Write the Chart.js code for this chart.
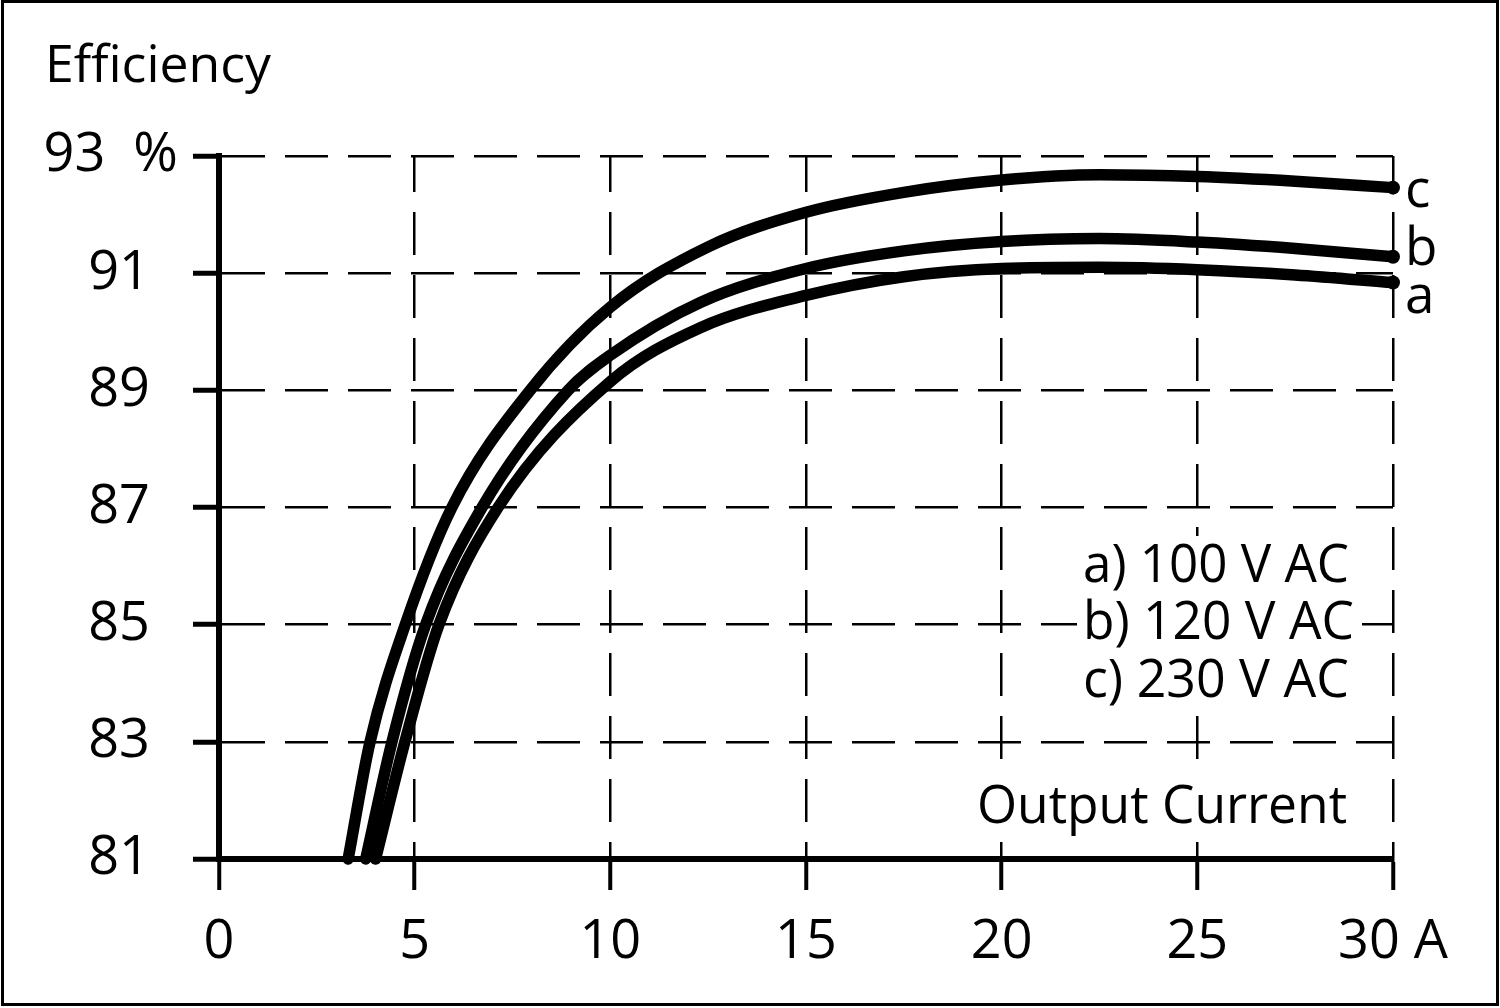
<!DOCTYPE html>
<html><head><meta charset="utf-8">
<script src="https://cdn.jsdelivr.net/npm/chart.js@4.4.1/dist/chart.umd.min.js"></script>
<style>html,body{margin:0;padding:0;background:#fff}canvas{display:block}</style>
</head><body>
<canvas id="c" width="1500" height="1008"></canvas>
<script>
// ---- data ----
const xTicks = [0, 5, 10, 15, 20, 25, 30];
const yTicks = [81, 83, 85, 87, 89, 91, 93];
const xUnit = 'A';
const yUnit = '%';
const yTitle = 'Efficiency';
const xTitle = 'Output Current';
const seriesNames = ['a) 100 V AC', 'b) 120 V AC', 'c) 230 V AC'];
const curveLetters = ['a', 'b', 'c'];

// a) 100 V AC
const currentA    = [4.0, 4.75, 5.62, 7.13, 10, 12.3, 15, 17.5, 20, 22.5, 25, 27.5, 30];
const efficiencyA = [81, 83, 85, 87, 89.15, 90.07, 90.62, 90.94, 91.08, 91.1, 91.06, 90.97, 90.84];
// b) 120 V AC
const currentB    = [3.75, 4.42, 5.28, 6.72, 8.92, 10, 12.3, 15, 17.5, 20, 22.5, 25, 27.5, 30];
const efficiencyB = [81, 83, 85, 87, 89, 89.6, 90.5, 91.08, 91.38, 91.54, 91.59, 91.53, 91.42, 91.28];
// c) 230 V AC
const currentC    = [3.3, 3.86, 4.76, 5.95, 7.95, 10, 12.5, 15, 17.5, 20, 22.5, 25, 27.5, 30];
const efficiencyC = [81, 83, 85, 87, 89, 90.42, 91.45, 92.04, 92.38, 92.59, 92.68, 92.65, 92.57, 92.46];

const FONT = '"Open Sans", "Noto Sans", sans-serif';
const toPts = (xs, ys) => xs.map((x, i) => ({x: x, y: ys[i]}));

const annot = {
  id: 'annot',
  beforeDraw(chart) {
    const ctx = chart.ctx;
    ctx.save();
    ctx.fillStyle = '#fff';
    ctx.fillRect(0, 0, chart.width, chart.height);
    ctx.restore();
  },
  afterDatasetsDraw(chart) {
    const ctx = chart.ctx;
    const xs = chart.scales.x;
    ctx.save();
    // white boxes behind the in-plot texts
    ctx.fillStyle = '#fff';
    ctx.fillRect(1077, 536, 285, 170);
    ctx.fillRect(970, 774, 386, 62);
    ctx.fillStyle = '#000';
    ctx.textAlign = 'left';
    ctx.textBaseline = 'alphabetic';
    ctx.font = '52px ' + FONT;
    ctx.fillText(yTitle, 45, 82, 226);
    ctx.font = '53px ' + FONT;
    const legendBase = [582, 639, 697];
    const legendW = [266, 271, 266];
    seriesNames.forEach((n, i) => ctx.fillText(n, 1083, legendBase[i], legendW[i]));
    ctx.fillText(xTitle, 977, 823, 370);
    // curve end letters
    const lx = xs.getPixelForValue(30) + 12;
    const letterBase = [313, 265, 207];
    curveLetters.forEach((l, i) => ctx.fillText(l, lx, letterBase[i]));
    // picture frame
    ctx.strokeStyle = '#000';
    ctx.lineWidth = 3;
    ctx.strokeRect(2.5, 1.5, 1495, 1003);
    ctx.restore();
  }
};

const lastDot = (c) => c.dataIndex === c.dataset.data.length - 1 ? 7 : 0;
const mkSet = (label, xs, ys) => ({
  label: label,
  data: toPts(xs, ys),
  borderColor: '#000',
  backgroundColor: '#000',
  borderWidth: 11.5,
  cubicInterpolationMode: 'monotone',
  borderCapStyle: 'round',
  borderJoinStyle: 'round',
  fill: false,
  pointRadius: lastDot,
  pointBackgroundColor: '#000',
  pointBorderWidth: 0,
  clip: 12
});

new Chart(document.getElementById('c'), {
  type: 'line',
  data: {
    datasets: [
      mkSet(seriesNames[0], currentA, efficiencyA),
      mkSet(seriesNames[1], currentB, efficiencyB),
      mkSet(seriesNames[2], currentC, efficiencyC)
    ]
  },
  options: {
    responsive: false,
    animation: false,
    devicePixelRatio: 1,
    layout: {padding: {top: 156, right: 107, left: 0, bottom: 0}},
    plugins: {legend: {display: false}, tooltip: {enabled: false}},
    scales: {
      x: {
        type: 'linear', min: xTicks[0], max: xTicks[xTicks.length - 1],
        afterFit(s) { s.height = 149; },
        afterBuildTicks(s) { s.ticks = xTicks.map(v => ({value: v})); },
        ticks: {
          autoSkip: false, maxRotation: 0, padding: 20, color: '#000',
          font: {family: FONT, size: 54},
          callback: (v) => v === xTicks[xTicks.length - 1] ? v + ' ' + xUnit : String(v)
        },
        grid: {
          color: '#000', lineWidth: 2.5,
          tickLength: 31, tickWidth: 4, tickColor: '#000', tickBorderDash: []
        },
        border: {display: true, color: '#000', width: 6, dash: [43, 20], dashOffset: 7}
      },
      y: {
        type: 'linear', min: yTicks[0], max: yTicks[yTicks.length - 1],
        afterFit(s) { s.width = 219; },
        afterBuildTicks(s) { s.ticks = yTicks.map(v => ({value: v})); },
        ticks: {
          autoSkip: false, padding: 15, color: '#000',
          font: {family: FONT, size: 54},
          callback: (v) => v === yTicks[yTicks.length - 1] ? v + '  ' + yUnit : v + '  '
        },
        grid: {
          color: '#000', lineWidth: 2.5,
          tickLength: 26, tickWidth: 5, tickColor: '#000', tickBorderDash: []
        },
        border: {display: true, color: '#000', width: 6, dash: [43, 20], dashOffset: 0}
      }
    }
  },
  plugins: [annot]
});
</script>
</body></html>
